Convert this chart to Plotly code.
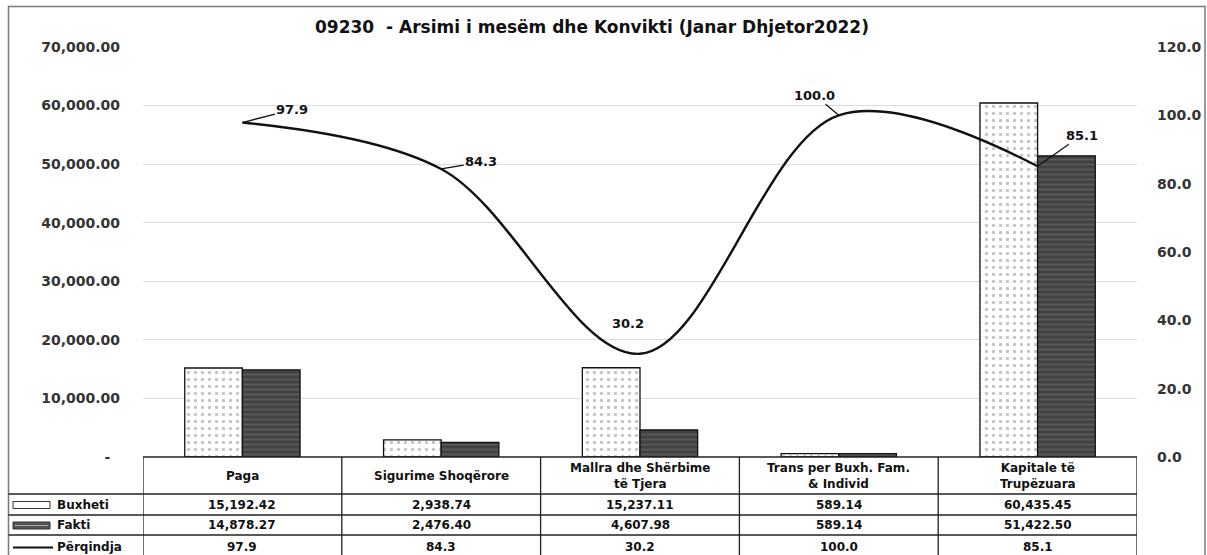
import plotly.graph_objects as go

# ---------------- data ----------------
categories = ["Paga", "Sigurime Shoqërore", "Mallra dhe Shërbime të Tjera",
              "Trans per Buxh. Fam. & Individ", "Kapitale të Trupëzuara"]
header_labels = ["Paga", "Sigurime Shoqërore", "Mallra dhe Shërbime<br>të Tjera",
                 "Trans per Buxh. Fam.<br>& Individ", "Kapitale të<br>Trupëzuara"]
buxheti = [15192.42, 2938.74, 15237.11, 589.14, 60435.45]
fakti = [14878.27, 2476.40, 4607.98, 589.14, 51422.50]
perqindja = [97.9, 84.3, 30.2, 100.0, 85.1]
series_names = ["Buxheti", "Fakti", "Përqindja"]
title_text = "09230  - Arsimi i mesëm dhe Konvikti (Janar Dhjetor2022)"
left_ticks = [0, 10000, 20000, 30000, 40000, 50000, 60000, 70000]
right_ticks = [0, 20, 40, 60, 80, 100, 120]

# ---------------- layout geometry (pixels) ----------------
W, H = 1207, 555
PL, PR, PT, PB = 143, 1137, 47, 457
FONT = "DejaVu Sans"


def px_x(px):
    return (px - PL) / (PR - PL)


def px_y(py):
    return (PB - py) / (PB - PT)


fig = go.Figure()

fig.add_trace(go.Bar(
    x=categories, y=buxheti, name=series_names[0],
    marker=dict(color="white", line=dict(color="#111", width=1.3),
                pattern=dict(shape=".", fgcolor="#8a8a8a", bgcolor="white",
                             size=7, solidity=0.18)),
))
fig.add_trace(go.Bar(
    x=categories, y=fakti, name=series_names[1],
    marker=dict(color="#4a4a4a", line=dict(color="#111", width=1.3),
                pattern=dict(shape="-", fgcolor="#727272", bgcolor="#424242",
                             size=5, solidity=0.35)),
))
fig.add_trace(go.Scatter(
    x=categories, y=perqindja, name=series_names[2], yaxis="y2",
    mode="lines", line=dict(color="#111", width=2.4, shape="spline", smoothing=1.0),
))

# line data labels with leader lines (offsets in px)
label_offsets = [(50, -13), (40, -7), (-12, -30), (-24, -20), (44, -31)]
for cat, v, (ax, ay) in zip(categories, perqindja, label_offsets):
    show = abs(ay) < 30 or ax > 0
    fig.add_annotation(
        x=cat, y=v, xref="x", yref="y2", text=f"<b>{v:.1f}</b>",
        showarrow=bool(show), arrowhead=0, arrowwidth=1.3, arrowcolor="#111",
        ax=ax, ay=ay, standoff=0,
        xshift=0 if show else ax, yshift=0 if show else -ay,
        font=dict(family=FONT, size=13, color="#111"),
    )

shapes = []
# outer chart border
shapes.append(dict(type="rect", xref="paper", yref="paper",
                   x0=px_x(8.5), x1=px_x(1205), y0=px_y(6.5), y1=px_y(562),
                   line=dict(color="#7a7a7a", width=1.5), layer="below"))

# ---------------- data table ----------------
row_bounds = [457, 494, 515, 535, 558]
line_c = "#222"
for i in range(len(categories) + 1):
    shapes.append(dict(type="line", xref="x", yref="paper",
                       x0=i - 0.5, x1=i - 0.5, y0=px_y(row_bounds[0]), y1=px_y(row_bounds[-1]),
                       line=dict(color=line_c, width=1.3)))
for j, yb in enumerate(row_bounds[:-1]):
    shapes.append(dict(type="line", xref="x", yref="paper",
                       x0=-0.5, x1=len(categories) - 0.5, y0=px_y(yb), y1=px_y(yb),
                       line=dict(color=line_c, width=1.3)))
    if j > 0:
        shapes.append(dict(type="line", xref="paper", yref="paper",
                           x0=px_x(8.5), x1=0, y0=px_y(yb), y1=px_y(yb),
                           line=dict(color=line_c, width=1.3)))

# legend keys in the label column
row_c = [(row_bounds[k] + row_bounds[k + 1]) / 2 for k in range(1, 4)]
shapes.append(dict(type="rect", xref="paper", yref="paper",
                   x0=px_x(13), x1=px_x(50), y0=px_y(row_c[0] - 3), y1=px_y(row_c[0] + 4),
                   line=dict(color="#333", width=1), fillcolor="white"))
shapes.append(dict(type="rect", xref="paper", yref="paper",
                   x0=px_x(13), x1=px_x(50), y0=px_y(row_c[1] - 3), y1=px_y(row_c[1] + 4),
                   line=dict(color="#333", width=1), fillcolor="#555"))
shapes.append(dict(type="line", xref="paper", yref="paper",
                   x0=px_x(15), x1=px_x(48), y0=px_y(row_c[1] + 0.5), y1=px_y(row_c[1] + 0.5),
                   line=dict(color="#aaa", width=1)))
shapes.append(dict(type="line", xref="paper", yref="paper",
                   x0=px_x(13), x1=px_x(53), y0=px_y(row_c[2] + 1), y1=px_y(row_c[2] + 1),
                   line=dict(color="#111", width=2)))

cell_font = dict(family=FONT, size=12, color="#111")
hc = (row_bounds[0] + row_bounds[1]) / 2
for cat, lab in zip(categories, header_labels):
    fig.add_annotation(x=cat, y=px_y(hc), xref="x", yref="paper", text=f"<b>{lab}</b>",
                       showarrow=False, font=cell_font, yanchor="middle")
rows = [
    [f"{v:,.2f}" for v in buxheti],
    [f"{v:,.2f}" for v in fakti],
    [f"{v:.1f}" for v in perqindja],
]
for r, (name, vals) in enumerate(zip(series_names, rows)):
    yc = px_y(row_c[r])
    fig.add_annotation(x=px_x(55), y=yc, xref="paper", yref="paper", text=f"<b>{name}</b>",
                       showarrow=False, font=cell_font, xanchor="left", yanchor="middle")
    for cat, t in zip(categories, vals):
        fig.add_annotation(x=cat, y=yc, xref="x", yref="paper", text=f"<b>{t}</b>",
                           showarrow=False, font=cell_font, yanchor="middle")

left_text = ["-\u00a0\u00a0"] + [f"{v:,.2f}" for v in left_ticks[1:]]
tick_font = dict(family=FONT, size=14, color="#333", weight="bold")

fig.update_layout(
    width=W, height=H,
    margin=dict(l=PL, r=W - PR, t=PT, b=H - PB, pad=0, autoexpand=False),
    paper_bgcolor="white", plot_bgcolor="white",
    showlegend=False,
    barmode="group", bargap=0.42, bargroupgap=0.0,
    shapes=shapes,
    title=dict(text=f"<b>{title_text}</b>", x=592 / W, xanchor="center", xref="container",
               y=1 - 27 / H, yanchor="middle", yref="container",
               font=dict(family=FONT, size=17, color="#111")),
    xaxis=dict(type="category", range=[-0.5, len(categories) - 0.5], showticklabels=False,
               showgrid=False, zeroline=False, showline=False, ticks="", automargin=False),
    yaxis=dict(range=[0, 70000], tickvals=left_ticks, ticktext=left_text,
               showgrid=True, gridcolor="#dcdcdc", gridwidth=1, zeroline=False,
               showline=False, ticks="", ticklabelstandoff=22, tickfont=tick_font,
               automargin=False),
    yaxis2=dict(range=[0, 120], tickvals=right_ticks, tickformat=".1f", overlaying="y",
                side="right", showgrid=False, zeroline=False, showline=False, ticks="",
                ticklabelstandoff=19, tickfont=tick_font, automargin=False),
)

fig.write_html("out.html", config={"displayModeBar": False},
               post_script="document.body.style.margin='0px';document.body.style.padding='0px';")
